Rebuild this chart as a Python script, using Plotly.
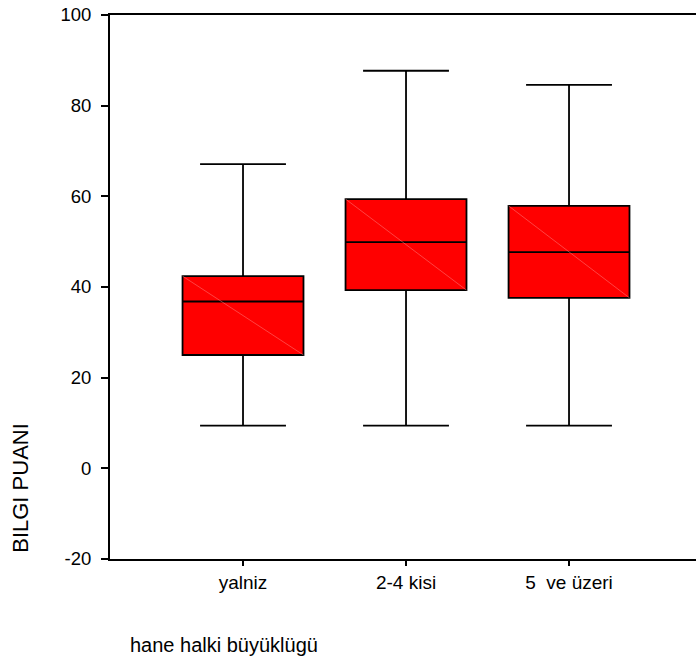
import plotly.graph_objects as go

# Household size groups and box-plot statistics of the knowledge score
groups = ["yalniz", "2-4 kisi", "5\u00a0 ve üzeri"]
lower_whisker = [9.4, 9.4, 9.4]
q1 = [25.0, 39.3, 37.6]
median = [36.8, 49.9, 47.7]
q3 = [42.4, 59.4, 57.9]
upper_whisker = [67.1, 87.7, 84.6]
y_ticks = [-20, 0, 20, 40, 60, 80, 100]
y_tick_labels = [str(v) for v in y_ticks]  # plain hyphen for negatives

FONT = "Liberation Sans, Arial, sans-serif"
pos = list(range(len(groups)))
box_w = 0.742

fig = go.Figure()
fig.add_trace(go.Box(
    x=pos, q1=q1, median=median, q3=q3,
    lowerfence=lower_whisker, upperfence=upper_whisker,
    width=box_w, whiskerwidth=0.71,
    fillcolor="#ff0000", line=dict(color="black", width=1.8),
    boxpoints=False, hoverinfo="skip", showlegend=False,
))

# faint diagonal running corner to corner across each box
dx, dy = [], []
for i in pos:
    dx += [i - box_w / 2, i + box_w / 2, None]
    dy += [q3[i], q1[i], None]
fig.add_trace(go.Scatter(
    x=dx, y=dy, mode="lines",
    line=dict(color="rgba(255,140,140,0.8)", width=0.6),
    hoverinfo="skip", showlegend=False,
))

fig.update_layout(
    width=696, height=661,
    margin=dict(l=110, r=0, t=15, b=102),
    paper_bgcolor="white", plot_bgcolor="white",
    font=dict(family=FONT, color="black", size=19),
    xaxis=dict(
        range=[-0.816, 2.779], tickvals=pos, ticktext=groups,
        showline=True, linewidth=2, linecolor="black", mirror=True,
        ticks="outside", ticklen=5, tickwidth=1.5, tickcolor="black",
        showgrid=False, zeroline=False, tickfont=dict(size=19),
    ),
    yaxis=dict(
        range=[-20, 100], tickvals=y_ticks, ticktext=y_tick_labels,
        showline=True, linewidth=2, linecolor="black",
        ticks="outside", ticklen=7, tickwidth=1.5, tickcolor="black",
        showgrid=False, zeroline=False, tickfont=dict(size=18.5),
        ticklabelstandoff=6,
    ),
    annotations=[
        dict(text="BILGI PUANI", textangle=-90, xref="paper", yref="paper",
             x=-0.154, y=0.1305, xanchor="center", yanchor="middle",
             showarrow=False, font=dict(size=22)),
        dict(text="hane halki büyüklügü", xref="paper", yref="paper",
             x=0.0307, y=-0.158, xanchor="left", yanchor="middle",
             showarrow=False, font=dict(size=20)),
    ],
)

fig.write_html("out.html")
